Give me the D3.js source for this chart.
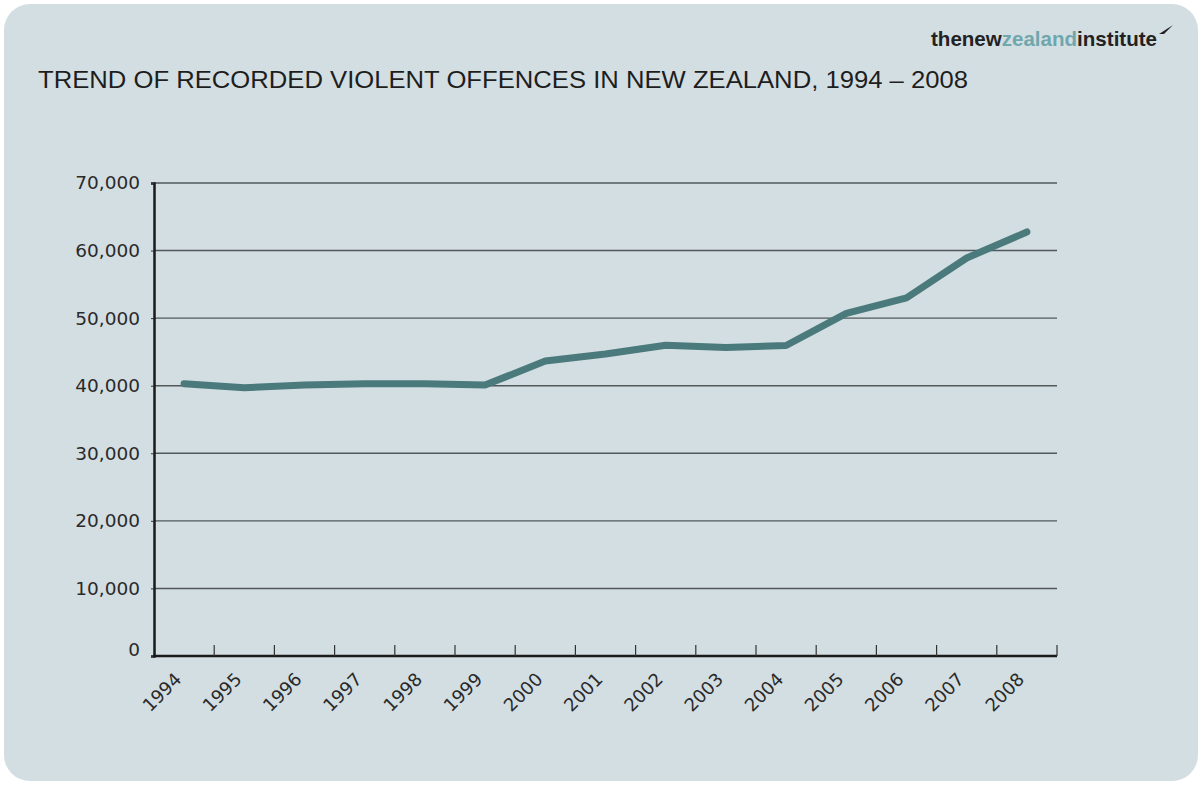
<!DOCTYPE html>
<html>
<head>
<meta charset="utf-8">
<script src="https://cdn.jsdelivr.net/npm/d3@7"></script>
<style>
  body { margin: 0; background: #fff; }
  svg { display: block; font-family: "DejaVu Sans", Arial, sans-serif; }
</style>
</head>
<body>
<svg id="chart" width="1202" height="785"></svg>
<script>
// data
var years = ["1994", "1995", "1996", "1997", "1998", "1999", "2000", "2001",
	"2002", "2003", "2004", "2005", "2006", "2007", "2008"];
var offences = [40300, 39700, 40100, 40300, 40300, 40100, 43650, 44700,
	46000, 45650, 45950, 50700, 53000, 58900, 62750];
var yTicks = [0, 10000, 20000, 30000, 40000, 50000, 60000, 70000];

var svg = d3.select("#chart"),

	margin = {
		top: 183,
		right: 145,
		bottom: 129,
		left: 154
	},
	width = 1202 - margin.left - margin.right,
	height = 785 - margin.top - margin.bottom;

// panel background
svg.append("rect")
	.attr("x", 4)
	.attr("y", 4)
	.attr("width", 1194)
	.attr("height", 777)
	.attr("rx", 26)
	.attr("fill", "#d3dee3");

svg.append("text")
	.attr("x", 38)
	.attr("y", 88)
	.attr("font-size", "24px")
	.attr("font-family", "Liberation Sans, Arial, sans-serif")
	.attr("fill", "#1e1e1e")
	.attr("textLength", 930)
	.attr("lengthAdjust", "spacingAndGlyphs")
	.text("TREND OF RECORDED VIOLENT OFFENCES IN NEW ZEALAND, 1994 \u2013 2008");

// logo
var logo = svg.append("text")
	.attr("x", 931)
	.attr("y", 46)
	.attr("font-size", "21px")
	.attr("font-weight", "bold")
	.attr("font-family", "Liberation Sans, Arial, sans-serif")
	.attr("textLength", 226)
	.attr("lengthAdjust", "spacingAndGlyphs");
logo.append("tspan").attr("fill", "#222").text("thenew");
logo.append("tspan").attr("fill", "#6fa7ad").text("zealand");
logo.append("tspan").attr("fill", "#222").text("institute");
svg.append("path")
	.attr("d", "M1159,34 L1173,25 L1164,34 Z")
	.attr("fill", "#222");

var g = svg.append("g").attr("transform", "translate(" + margin.left + "," + margin.top + ")");

var x = d3.scaleBand()
	.domain(years)
	.range([0, width])
	.padding(0);

var y = d3.scaleLinear()
	.domain([0, 70000])
	.range([height, 0]);

// gridlines
g.selectAll(".grid")
	.data(yTicks.filter(function (d) { return d > 0; }))
	.enter().append("line")
	.attr("class", "grid")
	.attr("x1", 0)
	.attr("x2", width)
	.attr("y1", function (d) { return y(d); })
	.attr("y2", function (d) { return y(d); })
	.attr("stroke", "#50585a")
	.attr("stroke-width", 1.4);

// y axis
var yAxis = g.append("g")
	.call(d3.axisLeft(y).tickValues(yTicks).tickSize(3).tickPadding(11)
		.tickFormat(d3.format(",")));
yAxis.select(".domain").attr("stroke", "#1a1a1a").attr("stroke-width", 2.5);
yAxis.selectAll(".tick line").attr("stroke", "#333");
yAxis.selectAll("text")
	.attr("font-size", "18.5px")
	.attr("fill", "#2a2a2a")
	.attr("font-family", "DejaVu Sans, Arial, sans-serif")
	.attr("dy", function (d) { return d === 0 ? "-0.05em" : "0.32em"; });

// x axis, ticks on the band edges pointing up
var xEdges = years.slice(1).map(function (d) { return x(d); }).concat([width]);
var xAxis = g.append("g").attr("transform", "translate(0," + height + ")");
xAxis.append("line")
	.attr("x1", -1)
	.attr("x2", width)
	.attr("stroke", "#1a1a1a")
	.attr("stroke-width", 2.5);
xAxis.selectAll(".edge")
	.data(xEdges)
	.enter().append("line")
	.attr("class", "edge")
	.attr("x1", function (d) { return d; })
	.attr("x2", function (d) { return d; })
	.attr("y1", 0)
	.attr("y2", -11)
	.attr("stroke", "#333")
	.attr("stroke-width", 1.2);
xAxis.selectAll(".lab")
	.data(years)
	.enter().append("text")
	.attr("class", "lab")
	.attr("text-anchor", "end")
	.attr("font-size", "18px")
	.attr("fill", "#2a2a2a")
	.attr("transform", function (d) {
		return "translate(" + (x(d) + x.bandwidth() / 2 - 6) + ",20) rotate(-45)";
	})
	.attr("dy", "0.35em")
	.text(function (d) { return d; });

// the trend line
var line = d3.line()
	.x(function (d, i) { return x(years[i]) + x.bandwidth() / 2; })
	.y(function (d) { return y(d); });

g.append("path")
	.datum(offences)
	.attr("fill", "none")
	.attr("stroke", "#4b7a7c")
	.attr("stroke-width", 7)
	.attr("stroke-linejoin", "round")
	.attr("stroke-linecap", "round")
	.attr("d", line);
</script>
</body>
</html>
